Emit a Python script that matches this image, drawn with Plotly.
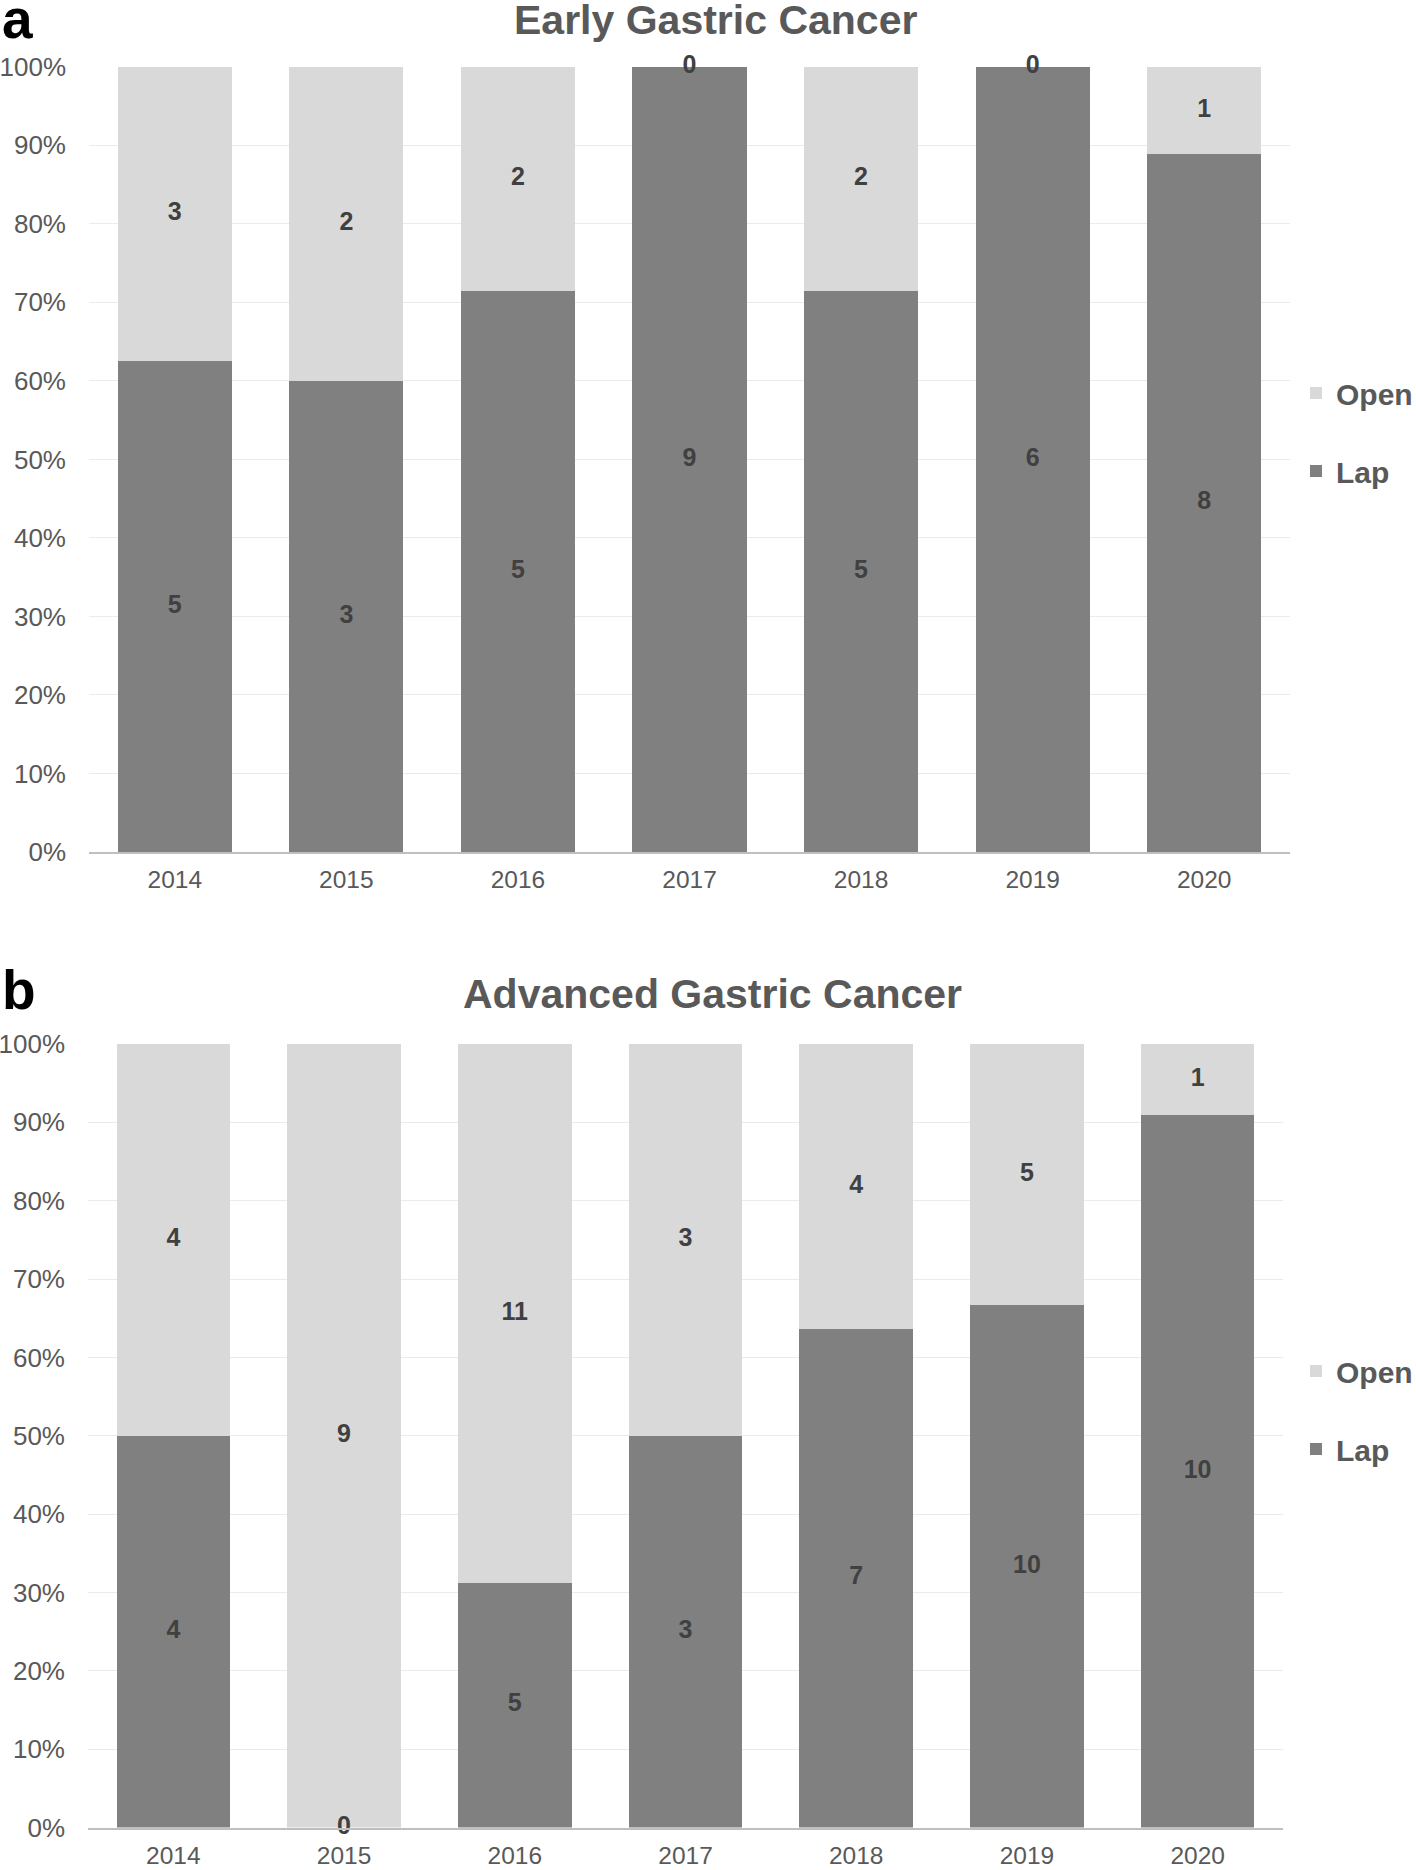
import plotly.graph_objects as go

years = ["2014", "2015", "2016", "2017", "2018", "2019", "2020"]
early_lap = [5, 3, 5, 9, 5, 6, 8]
early_open = [3, 2, 2, 0, 2, 0, 1]
adv_lap = [4, 0, 5, 3, 7, 10, 10]
adv_open = [4, 9, 11, 3, 4, 5, 1]
y_ticks = [0, 10, 20, 30, 40, 50, 60, 70, 80, 90, 100]
y_tick_text = [f"{v}%" for v in y_ticks]

LAP_C = "#808080"
OPEN_C = "#D9D9D9"
LBL_C = "#404040"
AX_C = "#595959"
FONT = "Liberation Sans, Arial, sans-serif"

W, H = 1416, 1870

def px_x(v):
    return v / W

def px_y(v):
    return 1 - v / H

fig = go.Figure()

panels = [
    dict(lap=early_lap, opn=early_open, xa="x", ya="y", legend="legend"),
    dict(lap=adv_lap, opn=adv_open, xa="x2", ya="y2", legend="legend2"),
]

for p in panels:
    fig.add_trace(go.Bar(
        x=years, y=p["lap"], name="Lap", marker=dict(color=LAP_C, line=dict(width=0)),
        xaxis=p["xa"], yaxis=p["ya"], legend=p["legend"],
        legendgroup=p["legend"] + "lap", legendrank=2, hoverinfo="skip",
    ))
    fig.add_trace(go.Bar(
        x=years, y=p["opn"], name="Open", marker=dict(color=OPEN_C, line=dict(width=0)),
        xaxis=p["xa"], yaxis=p["ya"], legend=p["legend"],
        legendgroup=p["legend"] + "open", legendrank=1, hoverinfo="skip",
    ))
    # count labels at the middle of each stacked segment (percent scale)
    lx, ly, lt = [], [], []
    for yr, l, o in zip(years, p["lap"], p["opn"]):
        tot = l + o
        lx += [yr, yr]
        ly += [100 * (l / 2) / tot, 100 * (l + o / 2) / tot]
        lt += [str(l), str(o)]
    fig.add_trace(go.Scatter(
        x=lx, y=ly, mode="text", text=lt, textposition="middle center",
        textfont=dict(size=25, color=LBL_C, family=FONT, weight="bold"),
        xaxis=p["xa"], yaxis=p["ya"], showlegend=False, hoverinfo="skip", cliponaxis=False,
    ))

annotations = [
    dict(x=px_x(716), y=px_y(20), xref="paper", yref="paper", text="<b>Early Gastric Cancer</b>",
         showarrow=False, font=dict(size=41, color=AX_C, family=FONT), xanchor="center", yanchor="middle"),
    dict(x=px_x(712), y=px_y(994), xref="paper", yref="paper", text="<b>Advanced Gastric Cancer</b>",
         showarrow=False, font=dict(size=41, color=AX_C, family=FONT), xanchor="center", yanchor="middle"),
    dict(x=px_x(0), y=px_y(19), xref="paper", yref="paper", text="<b>a</b>",
         showarrow=False, font=dict(size=55, color="#000000", family=FONT), xanchor="left", yanchor="middle"),
    dict(x=px_x(0), y=px_y(990), xref="paper", yref="paper", text="<b>b</b>",
         showarrow=False, font=dict(size=55, color="#000000", family=FONT), xanchor="left", yanchor="middle"),
]

xaxis_common = dict(
    type="category", range=[-0.5, len(years) - 0.5], showgrid=False, showline=True,
    linecolor="#BFBFBF", linewidth=1.5, automargin=False,
    ticks="", tickfont=dict(size=24.5, color=AX_C, family=FONT), ticklabelstandoff=5,
    fixedrange=True,
)
yaxis_common = dict(
    range=[0, 100], tickmode="array", tickvals=y_ticks, ticktext=y_tick_text,
    showgrid=True, gridcolor="#EBEBEB", automargin=False,
    gridwidth=1, showline=False, zeroline=False, ticks="",
    tickfont=dict(size=26, color=AX_C, family=FONT), ticklabelstandoff=22, fixedrange=True,
)

legend_common = dict(
    font=dict(size=30, color=AX_C, family=FONT, weight="bold"),
    bgcolor="rgba(0,0,0,0)", tracegroupgap=36, traceorder="grouped",
    xanchor="left", yanchor="top", itemwidth=30,
)

fig.update_layout(
    width=W, height=H, margin=dict(l=0, r=0, t=0, b=0, autoexpand=False),
    paper_bgcolor="white", plot_bgcolor="white",
    barmode="stack", barnorm="percent", bargap=0.335,
    xaxis=dict(domain=[px_x(89), px_x(1290)], anchor="y", **xaxis_common),
    yaxis=dict(domain=[px_y(852), px_y(66.8)], anchor="x", **yaxis_common),
    xaxis2=dict(domain=[px_x(88), px_x(1283)], anchor="y2", **xaxis_common),
    yaxis2=dict(domain=[px_y(1827.5), px_y(1044)], anchor="x2", **yaxis_common),
    legend=dict(x=px_x(1296), y=px_y(367), **legend_common),
    legend2=dict(x=px_x(1296), y=px_y(1345), **legend_common),
    annotations=annotations,
    font=dict(family=FONT),
)

fig.write_html("out.html", config={"displayModeBar": False},
               post_script="document.body.style.margin='0px';")
